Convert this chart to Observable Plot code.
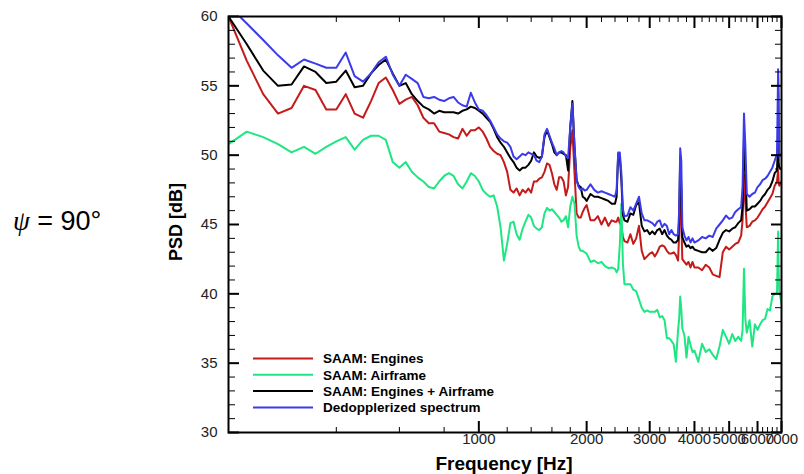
<!DOCTYPE html>
<html><head><meta charset="utf-8">
<script src="https://cdn.jsdelivr.net/npm/d3@7"></script>
<script src="https://cdn.jsdelivr.net/npm/@observablehq/plot@0.6"></script>
<style>
body{margin:0;background:#fff;}
#chart{width:804px;height:474px;}
</style></head><body><div id="chart"></div>
<script>
const freq = [200,225,250,275,300,325,350,375,400,425,450,475,500,525,550,575,600,
625,650,675,700,725,750,775,800,825,850,875,900,925,950,975,1000,
1025,1050,1075,1100,1125,1150,1175,1200,1225,1250,1275,1300,1325,1350,1375,1400,
1425,1450,1475,1500,1525,1550,1575,1600,1625,1650,1675,1700,1725,1750,1775,1800,
1825,1850,1875,1900,1925,
1950,1975,2000,2050,2100,2150,2200,2250,2300,2350,2400,2425,2450,2475,2500,2525,2550,
2600,2650,2700,2750,2800,2850,2900,2950,3000,3050,3100,3150,3200,3250,3300,3350,3400,3450,3500,3550,3600,
3625,3650,3675,3700,3750,3800,3850,3900,3950,4000,
4100,4200,4300,4400,4500,4600,4700,4800,4900,5000,5100,5200,5300,5400,
5450,5500,5550,5600,5700,5800,5900,6000,6100,6200,6300,6400,6500,6600,6700,6800,
6850,6875,6900,7000];

const engines = [60.0,56.8,54.4,53.0,53.4,55.0,54.7,53.3,53.3,54.4,53.0,52.7,53.9,55.2,55.6,54.7,53.7,
54.0,54.2,53.6,52.7,52.3,52.3,51.7,51.6,51.5,51.3,51.2,51.9,51.4,51.8,51.8,52.0,
51.7,51.2,50.6,50.3,50.1,50.0,49.5,48.8,47.5,47.3,47.6,47.1,47.5,47.3,47.6,47.3,
48.1,48.1,48.3,48.4,48.8,49.4,49.3,48.7,47.9,47.5,48.4,48.4,48.1,47.1,47.7,50.5,
51.8,48.7,45.8,45.5,45.5,
45.9,46.2,46.4,45.3,45.3,45.6,45.0,45.5,44.9,45.3,45.2,45.2,45.5,45.1,44.9,44.1,43.8,
43.7,44.3,43.6,44.0,44.9,43.1,42.5,42.7,42.9,43.0,42.7,43.0,43.4,43.5,43.4,43.1,42.9,42.9,43.0,42.8,42.4,
44.3,47.7,45.3,42.5,42.3,42.1,42.3,41.9,42.3,41.9,
41.9,41.7,42.1,41.9,41.4,41.3,41.2,43.0,43.4,43.2,43.4,43.6,43.7,44.2,
45.3,48.6,46.5,44.8,44.9,45.2,45.3,45.5,45.8,46.1,46.3,46.6,46.9,47.2,47.8,48.1,
48.9,48.0,47.8,48.1];

const airframe = [50.8,51.7,51.3,50.8,50.2,50.6,50.1,50.6,51.0,51.3,50.4,51.1,51.4,51.4,51.1,49.5,49.1,
49.5,48.8,48.4,48.1,47.7,47.6,48.1,48.5,48.7,48.5,47.9,47.6,48.1,48.7,48.5,48.1,
47.5,47.2,47.0,47.1,46.3,44.8,42.4,43.6,45.1,45.2,44.3,43.9,44.7,45.2,45.7,45.5,
44.9,44.7,44.6,44.8,45.8,46.2,46.0,46.1,45.9,45.7,45.5,45.2,45.3,45.6,44.8,46.3,
47.0,46.5,44.2,43.4,43.1,
43.1,43.0,42.9,42.3,42.4,42.2,42.3,42.0,41.85,41.9,41.8,41.55,41.8,43.5,46.5,42.2,40.7,
40.7,40.7,40.3,40.2,39.6,39.0,38.7,38.8,38.7,38.7,38.7,38.85,38.3,38.4,38.1,36.8,36.8,36.6,36.35,35.1,37.4,
38.2,39.8,38.9,37.5,37.0,35.4,36.9,36.3,35.8,35.9,
35.1,36.4,35.8,36.0,35.6,35.3,36.2,37.4,36.9,36.4,37.1,36.6,36.9,36.6,
37.4,41.8,38.1,37.2,38.1,36.2,37.8,37.4,37.8,38.1,38.2,38.9,38.8,39.8,40.0,40.0,
44.5,41.5,40.2,39.3];

const combined = [60.0,58.0,56.1,55.0,55.1,56.4,56.0,55.2,55.3,56.1,54.9,55.0,55.9,56.5,56.9,55.9,55.0,
55.2,54.4,53.9,53.5,53.3,53.0,53.2,53.1,53.1,53.1,53.0,53.2,53.3,53.5,53.4,53.2,
53.0,52.7,52.4,51.9,51.3,50.9,50.6,50.2,49.8,49.5,49.1,48.9,49.1,49.1,49.3,49.6,
50.2,49.9,49.8,49.9,51.3,51.8,51.3,50.8,50.2,50.0,50.2,50.2,50.1,50.0,48.9,52.0,
53.9,50.6,48.2,47.8,47.7,
47.0,46.9,46.7,47.2,47.0,47.0,46.9,46.8,46.7,46.5,46.5,47.0,50.1,49.9,48.2,45.7,45.3,
45.2,45.8,45.7,46.4,46.6,44.9,44.5,44.6,44.3,44.5,44.3,44.6,44.7,44.3,44.6,44.2,44.0,43.9,43.7,43.7,43.9,
45.3,49.9,47.7,44.1,43.7,43.4,43.5,43.3,43.4,43.2,
43.1,43.0,43.0,43.3,43.1,43.3,43.9,44.4,44.6,44.5,44.7,44.8,45.1,45.3,
46.3,51.1,48.9,46.0,46.1,46.3,46.3,46.5,46.7,47.0,47.2,47.5,47.7,48.1,48.7,48.9,
51.1,49.4,49.1,49.0];

const dedopplerized = [60.8,59.5,58.3,57.2,56.3,56.9,56.6,56.3,56.3,57.4,55.7,55.3,55.9,56.7,57.1,55.8,55.0,
55.8,55.5,55.2,54.2,54.1,54.2,54.0,53.9,54.1,54.2,53.8,53.6,53.5,54.5,53.8,53.3,
53.2,52.9,52.5,52.0,51.5,51.2,51.0,50.9,50.6,49.9,49.7,49.9,50.1,50.0,50.2,50.1,
50.0,49.6,49.5,49.9,51.5,51.9,51.4,50.9,50.5,50.0,50.2,50.3,50.2,49.9,49.8,52.0,
53.7,50.6,48.2,47.7,47.5,
47.6,47.45,47.5,47.9,47.5,47.3,47.4,47.3,47.2,47.1,47.0,47.5,50.2,50.2,48.7,46.1,45.6,
45.65,46.25,46.0,46.5,47.0,45.8,45.3,45.3,45.2,45.1,44.9,45.2,45.3,44.8,45.05,44.9,44.3,44.6,44.3,44.2,44.3,
46.0,50.5,49.6,44.8,44.2,43.85,44.1,43.7,44.0,43.7,
43.85,44.1,44.0,44.2,44.1,44.7,45.0,45.3,45.65,45.4,45.5,45.9,46.1,46.25,
47.7,53.0,50.6,47.2,47.0,47.2,47.3,47.7,47.9,48.2,48.3,48.5,48.8,49.1,49.6,50.1,
56.2,54.5,49.9,50.1];

const seriesNames = ["SAAM: Engines", "SAAM: Airframe", "SAAM: Engines + Airframe", "Dedopplerized spectrum"];
const seriesColors = ["#c41a1a", "#1ee682", "#000000", "#3b3bec"];
const xMajorTicks = [1000, 2000, 3000, 4000, 5000, 6000, 7000];
const xMinorTicks = [400,600,800,1200,1400,1600,1800,2200,2400,2600,2800,3200,3400,3600,3800,4200,4400,4600,4800,5200,5400,5600,5800,6200,6400,6600,6800];
const yMajorTicks = [30, 35, 40, 45, 50, 55, 60];
const yMinorTicks = [31,32,33,34,36,37,38,39,41,42,43,44,46,47,48,49,51,52,53,54,56,57,58,59];
const xLabel = "Frequency [Hz]";
const yLabel = "PSD [dB]";
const angleLabel = " = 90°";

const allSeries = [engines, airframe, combined, dedopplerized];
const rows = allSeries.flatMap((vals, k) => freq.map((f, i) => ({f, v: vals[i], s: seriesNames[k]})));

const blank = () => "";
const font = "'Liberation Sans', Arial, Helvetica, sans-serif";

const plot = Plot.plot({
  width: 804, height: 474,
  marginLeft: 228, marginRight: 23, marginTop: 16, marginBottom: 42,
  style: {fontFamily: font, fontSize: "15px", background: "white", color: "#000", overflow: "visible"},
  x: {type: "log", domain: [200, 7000], axis: null},
  y: {domain: [30, 60], axis: null},
  color: {domain: seriesNames, range: seriesColors},
  marks: [
    Plot.line(rows, {x: "f", y: "v", z: "s", stroke: "s", strokeWidth: 2, clip: true, strokeLinejoin: "round"}),
    // inward ticks: left
    Plot.axisY(yMinorTicks, {anchor: "left", tickSize: 7, dx: 7, tickFormat: blank, label: null, strokeWidth: 1}),
    Plot.axisY(yMajorTicks, {anchor: "left", tickSize: 11, dx: 11, tickFormat: blank, label: null, strokeWidth: 2}),
    // right
    Plot.axisY(yMinorTicks, {anchor: "right", tickSize: 7, dx: -7, tickFormat: blank, label: null, strokeWidth: 1}),
    Plot.axisY(yMajorTicks, {anchor: "right", tickSize: 11, dx: -11, tickFormat: blank, label: null, strokeWidth: 2}),
    // bottom
    Plot.axisX(xMinorTicks, {anchor: "bottom", tickSize: 5, dy: -5, tickFormat: blank, label: null, strokeWidth: 1}),
    Plot.axisX(xMajorTicks, {anchor: "bottom", tickSize: 11, dy: -11, tickFormat: blank, label: null, strokeWidth: 2}),
    // top
    Plot.axisX(xMinorTicks, {anchor: "top", tickSize: 5, dy: 5, tickFormat: blank, label: null, strokeWidth: 1}),
    Plot.axisX(xMajorTicks, {anchor: "top", tickSize: 11, dy: 11, tickFormat: blank, label: null, strokeWidth: 2}),
    // tick labels
    Plot.text(yMajorTicks, {y: d => d, text: d => String(d), frameAnchor: "left", textAnchor: "end", dx: -11, fontSize: 15, fill: "#222"}),
    Plot.text(xMajorTicks, {x: d => d, text: d => String(d), frameAnchor: "bottom", lineAnchor: "top", dy: 1, fontSize: 15, fill: "#222"}),
    Plot.frame({stroke: "#000", strokeWidth: 2})
  ]
});

document.getElementById("chart").appendChild(plot);

const svg = d3.select(plot);
svg.append("text")
  .attr("x", 504).attr("y", 470)
  .attr("text-anchor", "middle")
  .attr("font-family", font).attr("font-weight", "bold").attr("font-size", 19)
  .text(xLabel);
svg.append("text")
  .attr("transform", "translate(182,222) rotate(-90)")
  .attr("text-anchor", "middle")
  .attr("font-family", font).attr("font-weight", "bold").attr("font-size", 18)
  .text(yLabel);

const psi = svg.append("text")
  .attr("x", 13).attr("y", 230)
  .attr("text-anchor", "start")
  .attr("font-family", font).attr("font-size", 27);
psi.append("tspan").attr("font-family", "'Liberation Serif', 'DejaVu Serif', serif").attr("font-style", "italic").text("ψ");
psi.append("tspan").text(angleLabel);

const legend = svg.append("g");
const legendY = [358.5, 374.8, 391.1, 407.4];
seriesNames.forEach((name, i) => {
  legend.append("line")
    .attr("x1", 253).attr("x2", 313)
    .attr("y1", legendY[i]).attr("y2", legendY[i])
    .attr("stroke", seriesColors[i]).attr("stroke-width", 2);
  legend.append("text")
    .attr("x", 323).attr("y", legendY[i])
    .attr("dy", "0.36em")
    .attr("text-anchor", "start")
    .attr("font-family", font).attr("font-weight", "bold").attr("font-size", 13.5)
    .text(name);
});
</script>
</body></html>
